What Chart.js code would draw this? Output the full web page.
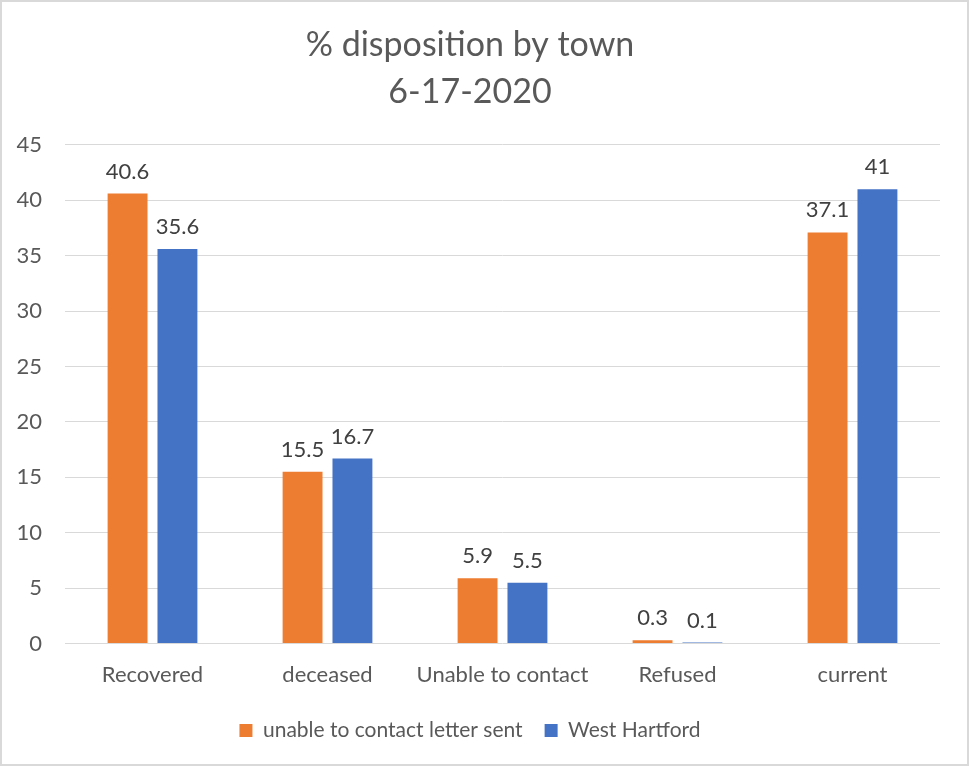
<!DOCTYPE html>
<html><head><meta charset="utf-8">
<script src="https://cdn.jsdelivr.net/npm/chart.js@4/dist/chart.umd.min.js"></script>
<style>html,body{margin:0;padding:0;background:#fff;}#wrap{width:969px;height:766px;position:relative;}</style>
</head><body><div id="wrap"><canvas id="c" width="969" height="766"></canvas></div>
<script>
const categories = ["Recovered", "deceased", "Unable to contact", "Refused", "current"];
const seriesNames = ["unable to contact letter sent", "West Hartford"];
const letterSent = [40.6, 15.5, 5.9, 0.3, 37.1];
const westHartford = [35.6, 16.7, 5.5, 0.1, 41];
const titleLines = ["% disposition by town", "6-17-2020"];
const FONT = "Lato, 'Open Sans', sans-serif";

const frame = {
  id: 'frame',
  afterDraw(chart) {
    const c = chart.ctx;
    c.save();
    c.strokeStyle = '#d9d9d9';
    c.lineWidth = 2;
    c.strokeRect(1, 1, chart.width - 2, chart.height - 2);
    c.restore();
  }
};
const labels = {
  id: 'labels',
  afterDatasetsDraw(chart) {
    const c = chart.ctx;
    c.save();
    c.font = '22px ' + FONT;
    c.fillStyle = '#404040';
    c.textAlign = 'center';
    c.textBaseline = 'bottom';
    chart.data.datasets.forEach((ds, i) => {
      chart.getDatasetMeta(i).data.forEach((bar, j) => {
        c.fillText(String(ds.data[j]), bar.x, bar.y - 11);
      });
    });
    c.restore();
  }
};
new Chart(document.getElementById('c'), {
  type: 'bar',
  data: {
    labels: categories,
    datasets: [
      {label: seriesNames[0], data: letterSent, backgroundColor: '#ED7D31', categoryPercentage: 0.57, barPercentage: 0.8},
      {label: seriesNames[1], data: westHartford, backgroundColor: '#4472C4', categoryPercentage: 0.57, barPercentage: 0.8}
    ]
  },
  options: {
    responsive: false,
    animation: false,
    devicePixelRatio: 1,
    layout: {padding: {left: 0, right: 29, top: 0, bottom: 15}},
    plugins: {
      title: {display: true, text: titleLines, color: '#595959', font: {family: FONT, size: 34, weight: 'normal', lineHeight: 1.38}, padding: {top: 22, bottom: 29}},
      legend: {position: 'bottom', labels: {color: '#595959', font: {family: FONT, size: 21}, boxWidth: 13, boxHeight: 13, padding: 22}},
      tooltip: {enabled: false}
    },
    scales: {
      x: {grid: {display: false}, border: {display: false}, ticks: {color: '#595959', font: {family: FONT, size: 22}, padding: 10, maxRotation: 0, minRotation: 0, autoSkip: false}},
      y: {min: 0, max: 45, grid: {color: '#d9d9d9', drawTicks: false}, border: {display: false},
          afterFit(scale) { scale.width = 65; },
          ticks: {stepSize: 5, color: '#595959', font: {family: FONT, size: 22}, padding: 23}}
    }
  },
  plugins: [frame, labels]
});
</script></body></html>
